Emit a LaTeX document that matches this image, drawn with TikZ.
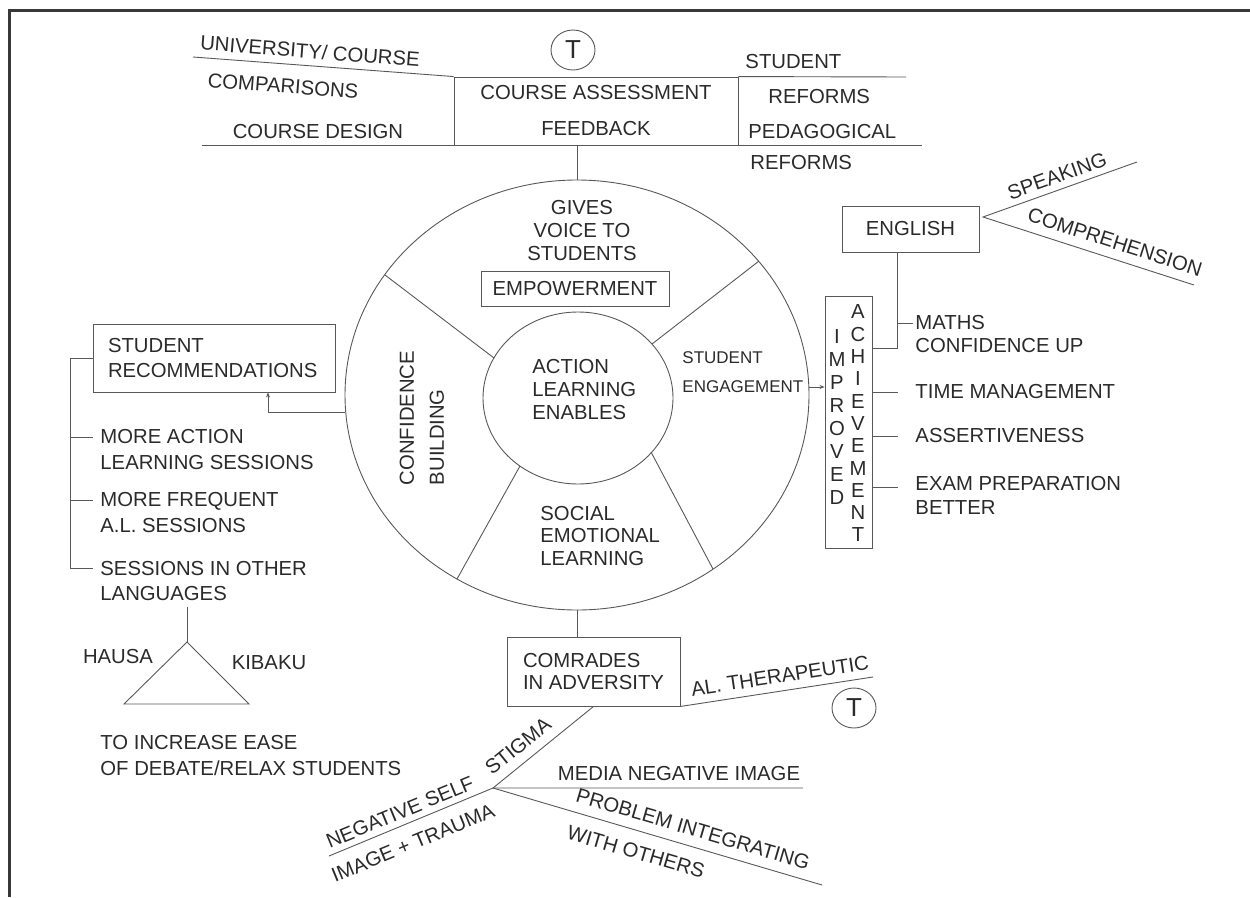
\documentclass[tikz,border=0pt]{standalone}
\usepackage{fontspec}
\setmainfont{Liberation Sans}
\usetikzlibrary{shapes.geometric,arrows.meta}
\definecolor{ink}{HTML}{2A2A2A}
\definecolor{rule}{HTML}{585858}
\begin{document}
\begin{tikzpicture}[x=1pt,y=-1pt,line width=0.9pt,color=rule,
  txt/.style={font=\fontsize{20.3}{24}\selectfont,text=ink,inner sep=0pt},
  lst/.style={txt,align=left,anchor=west,font=\fontsize{20.3}{26}\selectfont},
  tbox/.style={txt,draw=rule,align=center},
  hub/.style={draw=rule,ellipse,inner sep=0pt},
  tsym/.style={draw=rule,ellipse,inner sep=0pt,minimum width=44pt,minimum height=40pt,
    text=ink,font=\fontsize{26}{26}\selectfont},
  tip/.style={-{Stealth[length=5pt,width=4pt]}}]
  \useasboundingbox (0,0) rectangle (1250,897);
  % frame
  \draw[line width=3pt,black!78] (1250,10) -- (9,10) -- (9,897);

  % course assessment
  \node[tbox,minimum width=284pt,minimum height=68pt] (fb) at (596,111)
    {COURSE ASSESSMENT\\[12pt]FEEDBACK};
  \node[tsym] (t1) at (573,50) {T};
  \coordinate (uni) at (193,57);
  \coordinate (dsl) at (202,145);
  \coordinate (dsr) at (922,145);
  \coordinate (stu) at (906,77);
  \draw (uni) -- (fb.north west);
  \draw (dsl) -- (dsr);
  \draw (fb.north east) -- (stu);
  \node[txt,rotate=-4.4] at (310,51) {UNIVERSITY/ COURSE};
  \node[txt,rotate=-4.4] at (283,86) {COMPARISONS};
  \node[txt] at (318,132) {COURSE DESIGN};
  \node[txt,anchor=west] at (745,62) {STUDENT};
  \node[txt,anchor=west] at (768,97) {REFORMS};
  \node[txt,anchor=west] at (748,132) {PEDAGOGICAL};
  \node[txt,anchor=west] at (750,163) {REFORMS};

  % wheel
  \node[hub,minimum width=464pt,minimum height=430pt] (ring) at (577,395) {};
  \node[hub,minimum width=190pt,minimum height=172pt] (core) at (578,398) {};
  \draw (ring.north) -- (ring.north |- fb.south);
  \draw (385,275) -- (494,358);
  \draw (759,261) -- (652,344);
  \draw (457,579) -- (520,466);
  \draw (713,569) -- (651,452);
  \node[txt,align=center,font=\fontsize{20.3}{23}\selectfont] at (582,231)
    {GIVES\\VOICE TO\\STUDENTS};
  \node[tbox,minimum width=188pt,minimum height=35pt] (emp) at (575,289) {EMPOWERMENT};
  \node[txt,align=left,anchor=west,font=\fontsize{20.3}{23}\selectfont] at (532,390)
    {ACTION\\LEARNING\\ENABLES};
  \node[txt,align=left,anchor=west,font=\fontsize{17}{29}\selectfont] at (682,372.5)
    {STUDENT\\ENGAGEMENT};
  \node[txt,rotate=90,align=left,font=\fontsize{20.3}{30}\selectfont] at (422,418)
    {CONFIDENCE\\BUILDING};
  \node[txt,align=left,anchor=west,font=\fontsize{20.3}{22.5}\selectfont] at (540,536)
    {SOCIAL\\EMOTIONAL\\LEARNING};

  % improved achievement
  \node[tbox,minimum width=47pt,minimum height=252pt] (ach) at (848.5,422) {};
  \node[txt,align=center,font=\fontsize{20.3}{23}\selectfont] at (837,417.5)
    {I\\M\\P\\R\\O\\V\\E\\D};
  \node[txt,align=center,font=\fontsize{20.3}{22.3}\selectfont] at (858,423.5)
    {A\\C\\H\\I\\E\\V\\E\\M\\E\\N\\T};
  \coordinate (eg) at ([yshift=8pt]ring.east);
  \draw[tip] (eg) -- (eg -| ach.west);
  \node[tbox,minimum width=137pt,minimum height=46pt] (eng) at (910.5,229) {ENGLISH};
  \coordinate (ej) at (897,348);
  \draw (eng.south -| ej) -- (ej) -- (ej -| ach.east);
  \coordinate (sp) at (983,217);
  \coordinate (spk) at (1137,162);
  \coordinate (cmp) at (1194,285);
  \draw (spk) -- (sp) -- (cmp);
  \node[txt,rotate=19.7] at (1057,176) {SPEAKING};
  \node[txt,rotate=-17.9] at (1115,242) {COMPREHENSION};
  \node[txt,align=left,anchor=west,font=\fontsize{20.3}{23}\selectfont] (maths) at (915,334.5)
    {MATHS\\CONFIDENCE UP};
  \node[txt,anchor=west] (tm) at (915,392) {TIME MANAGEMENT};
  \node[txt,anchor=west] (ass) at (915,436) {ASSERTIVENESS};
  \node[txt,align=left,anchor=west] (exam) at (915,495)
    {EXAM PREPARATION\\BETTER};
  \coordinate (m1) at ([xshift=-2pt,yshift=11.5pt]maths.west);
  \coordinate (m2) at ([xshift=-17pt]tm.west);
  \coordinate (m3) at ([xshift=-17pt]ass.west);
  \coordinate (m4) at ([xshift=-17pt,yshift=8pt]exam.west);
  \draw (ej |- m1) -- (m1);
  \draw (ach.east |- m2) -- (m2);
  \draw (ach.east |- m3) -- (m3);
  \draw (ach.east |- m4) -- (m4);

  % student recommendations
  \node[tbox,align=left,text width=212pt,inner xsep=15pt,minimum height=68pt,
    font=\fontsize{20.3}{25}\selectfont] (rec) at (214,358) {STUDENT\\RECOMMENDATIONS};
  \coordinate (cb) at ([yshift=-17pt]ring.west);
  \draw[tip] (cb) -| ([xshift=54pt]rec.south);
  \node[lst] (more) at (100,450) {MORE ACTION\\LEARNING SESSIONS};
  \node[lst] (freq) at (100,513) {MORE FREQUENT\\A.L. SESSIONS};
  \node[lst,font=\fontsize{20.3}{25}\selectfont] (lang) at (100,581) {SESSIONS IN OTHER\\LANGUAGES};
  \coordinate (rail) at (70,358);
  \coordinate (k1) at ([xshift=-7pt,yshift=13pt]more.west);
  \coordinate (k2) at ([xshift=-7pt,yshift=13pt]freq.west);
  \coordinate (k3) at ([xshift=-7pt,yshift=12.5pt]lang.west);
  \draw (rec.west) -- (rail) -- (rail |- k3) -- (k3);
  \draw (rail |- k1) -- (k1);
  \draw (rail |- k2) -- (k2);
  \coordinate (tri) at (187,642);
  \coordinate (lg) at ([yshift=-6pt]lang.south);
  \draw (lg -| tri) -- (tri);
  \draw (tri) -- (124,704) -- (249,704) -- cycle;
  \node[txt] at (118,657) {HAUSA};
  \node[txt] at (269,663) {KIBAKU};
  \node[lst] at (100,756) {TO INCREASE EASE\\OF DEBATE/RELAX STUDENTS};

  % comrades in adversity
  \node[tbox,align=left,minimum width=173pt,minimum height=69pt,
    font=\fontsize{20.3}{22.5}\selectfont] (cia) at (593.5,671.5) {COMRADES\\IN ADVERSITY};
  \draw (ring.south) -- (ring.south |- cia.north);
  \coordinate (al) at (873,677);
  \draw (cia.south east) -- (al);
  \node[txt,rotate=8.5] at (780,676) {AL. THERAPEUTIC};
  \node[tsym] (t2) at (854,708) {T};
  \coordinate (apex) at (493,788);
  \coordinate (neg) at (329,856);
  \coordinate (med) at (803,788);
  \coordinate (prb) at (822,885);
  \draw (cia.south) -- (apex);
  \draw (neg) -- (apex) -- (med);
  \draw (apex) -- (prb);
  \node[txt,rotate=39] at (518,746) {STIGMA};
  \node[txt,rotate=22.5] at (400,812) {NEGATIVE SELF};
  \node[txt,rotate=22.5] at (413,843) {IMAGE + TRAUMA};
  \node[txt] at (679,774) {MEDIA NEGATIVE IMAGE};
  \node[txt,rotate=-16.4] at (693,829) {PROBLEM INTEGRATING};
  \node[txt,rotate=-16.4] at (636,852) {WITH OTHERS};
\end{tikzpicture}
\end{document}
